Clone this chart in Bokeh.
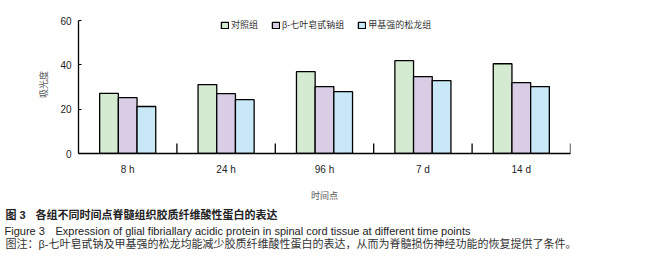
from bokeh.plotting import figure
from bokeh.layouts import column
from bokeh.models import (ColumnDataSource, FactorRange, Range1d, Legend,
                          LegendItem, Label, FixedTicker)
from bokeh.transform import dodge
from bokeh.embed import file_html
from bokeh.resources import INLINE

# ---- data ----
time_points = ["8 h", "24 h", "96 h", "7 d", "14 d"]
control = [27.1, 31.1, 36.9, 41.9, 40.5]
escin = [25.2, 27.0, 30.2, 34.7, 32.0]
methylpred = [21.2, 24.3, 27.9, 32.9, 30.2]
group_names = ["对照组", "β-七叶皂甙钠组", "甲基强的松龙组"]
group_colors = ["#d4ebd1", "#d9cde6", "#c8e7f7"]
y_ticks = [0, 20, 40, 60]
y_label = "吸光度"
x_label = "时间点"
cap1_a = "图 3"
cap1_b = "各组不同时间点脊髓组织胶质纤维酸性蛋白的表达"
cap2_a = "Figure 3"
cap2_b = "Expression of glial fibriallary acidic protein in spinal cord tissue at different time points"
cap3 = "图注：β-七叶皂甙钠及甲基强的松龙均能减少胶质纤维酸性蛋白的表达，从而为脊髓损伤神经功能的恢复提供了条件。"

FONT = "Liberation Sans, Noto Sans CJK SC"

MAIN_H = 203
CAP_H = 261 - MAIN_H

source = ColumnDataSource(dict(tp=time_points, control=control,
                               escin=escin, mp=methylpred))

p = figure(width=658, height=MAIN_H,
           x_range=FactorRange(factors=time_points),
           y_range=Range1d(0, 62.26),
           output_backend="svg", toolbar_location=None,
           min_border_left=78, min_border_right=88,
           min_border_top=15, min_border_bottom=MAIN_H - 153)
p.frame_align = False
p.outline_line_color = None
p.xgrid.grid_line_color = None
p.ygrid.grid_line_color = None
p.background_fill_color = "white"
p.border_fill_color = "white"

bw = 0.19
renderers = []
for field, off, col in zip(["control", "escin", "mp"], [-bw, 0, bw], group_colors):
    r = p.vbar(x=dodge("tp", off, range=p.x_range), top=field, width=bw,
               bottom=0, source=source, fill_color=col,
               line_color="black", line_width=1.3)
    renderers.append(r)

# category separators on x axis
p.segment(x0=dodge("tp", 0.5, range=p.x_range), y0=0,
          x1=dodge("tp", 0.5, range=p.x_range), y1=4.5,
          source=source, line_color="black", line_width=1.3)

# axes
ya = p.yaxis[0]
ya.ticker = FixedTicker(ticks=y_ticks)
ya.bounds = (0, 60)
ya.major_tick_in = 3
ya.major_tick_out = 0
ya.minor_tick_line_color = None
ya.axis_line_color = "black"
ya.axis_line_width = 1.3
ya.major_tick_line_width = 1
ya.major_label_text_font = FONT
ya.major_label_text_font_size = "10px"
ya.major_label_text_color = "#222222"
ya.major_label_standoff = 7
ya.axis_label = y_label
ya.axis_label_text_font = FONT
ya.axis_label_text_font_size = "9px"
ya.axis_label_text_font_style = "normal"
ya.axis_label_text_color = "#555555"
ya.axis_label_standoff = 8

xa = p.xaxis[0]
xa.major_tick_line_color = None
xa.minor_tick_line_color = None
xa.axis_line_color = "black"
xa.axis_line_width = 1.3
xa.major_label_text_font = FONT
xa.major_label_text_font_size = "10px"
xa.major_label_text_color = "#222222"
xa.major_label_standoff = 4
xa.axis_label = x_label
xa.axis_label_text_font = FONT
xa.axis_label_text_font_size = "9px"
xa.axis_label_text_font_style = "normal"
xa.axis_label_text_color = "#555555"
xa.axis_label_standoff = 13

# legend
legend = Legend(items=[LegendItem(label=n, renderers=[r])
                       for n, r in zip(group_names, renderers)],
                location=(142, 122), orientation="horizontal",
                glyph_width=9, glyph_height=8, label_standoff=2,
                label_height=11, label_width=5, spacing=13,
                padding=0, margin=0, border_line_color=None,
                background_fill_alpha=0,
                label_text_font=FONT, label_text_font_size="9px",
                label_text_color="#333333")
p.add_layout(legend)

# ---- caption panel ----
cap = figure(width=658, height=CAP_H, x_range=Range1d(0, 658), y_range=Range1d(0, CAP_H),
             output_backend="svg", toolbar_location=None,
             x_axis_location=None, y_axis_location=None, min_border=0)
cap.frame_align = False
cap.outline_line_color = None
cap.xgrid.visible = False
cap.ygrid.visible = False
cap.background_fill_color = "white"
cap.border_fill_color = "white"

def lab(text, cx, cy, size, color="#222222", style="normal"):
    # cy: vertical centre in page pixels from the top of the whole picture
    cap.add_layout(Label(x=cx, y=261 - cy, x_units="screen", y_units="screen",
                         text=text, text_font=FONT, text_font_size=size,
                         text_color=color, text_font_style=style,
                         text_align="left", text_baseline="middle"))

lab(cap1_a, 5, 214, "11px", style="bold")
lab(cap1_b, 35, 214, "11px", style="bold")
lab(cap2_a, 4, 230, "11px")
lab(cap2_b, 55, 230, "11px")
lab(cap3, 5, 243, "11px", color="#333333")

layout = column(p, cap, spacing=0)
open("out.html", "w").write(file_html(layout, INLINE))
